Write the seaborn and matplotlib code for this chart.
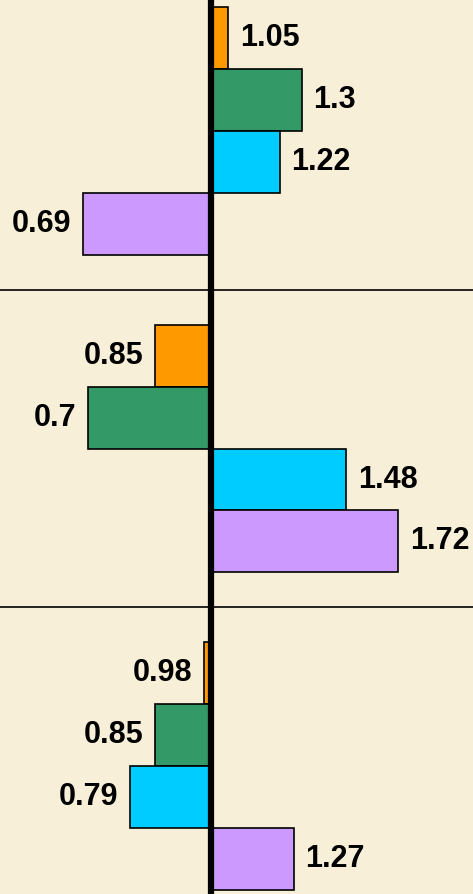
import numpy as np
import pandas as pd
import seaborn as sns
import matplotlib.pyplot as plt

groups = ["Group 1", "Group 2", "Group 3"]
series = ["Series 1", "Series 2", "Series 3", "Series 4"]
colors = ["#FF9900", "#339966", "#00CCFF", "#CC99FF"]

# ratio values per series, one entry per group (baseline at 1)
s1 = [1.05, 0.85, 0.98]
s2 = [1.3, 0.7, 0.85]
s3 = [1.22, 1.48, 0.79]
s4 = [0.69, 1.72, 1.27]

rows = []
for name, vals in zip(series, [s1, s2, s3, s4]):
    for g, v in zip(groups, vals):
        rows.append({"group": g, "series": name, "value": v, "logval": np.log(v)})
df = pd.DataFrame(rows)

sns.set_style("white")
plt.rcParams["font.family"] = ["Liberation Sans", "DejaVu Sans"]

bg = "#F8EFD8"
fig = plt.figure(figsize=(4.73, 8.94), dpi=100)
fig.patch.set_facecolor(bg)
ax = fig.add_axes([0, 0, 1, 1])
ax.set_facecolor(bg)

sns.barplot(data=df, y="group", x="logval", hue="series", orient="h",
            order=groups, hue_order=series, palette=colors, saturation=1,
            width=0.78, edgecolor="black", linewidth=1.2,
            legend=False, ax=ax, zorder=2)

for cont, name in zip(ax.containers, series):
    labs = [f"{v:g}" for v in df[df["series"] == name]["value"]]
    ax.bar_label(cont, labels=labs, padding=8.5, fontsize=22,
                 fontweight="bold", color="black")

ax.axvline(0, color="black", linewidth=4.5, zorder=5)
for y in [0.5, 1.5]:
    ax.axhline(y, color="black", linewidth=1.2, zorder=1)

ax.set_xlim(-0.612, 0.759)
ax.set_ylim(2.403, -0.413)
ax.set_xlabel("")
ax.set_ylabel("")
ax.set_xticks([])
ax.set_yticks([])
for sp in ax.spines.values():
    sp.set_visible(False)

fig.savefig("out.png", dpi=100, facecolor=fig.get_facecolor())
